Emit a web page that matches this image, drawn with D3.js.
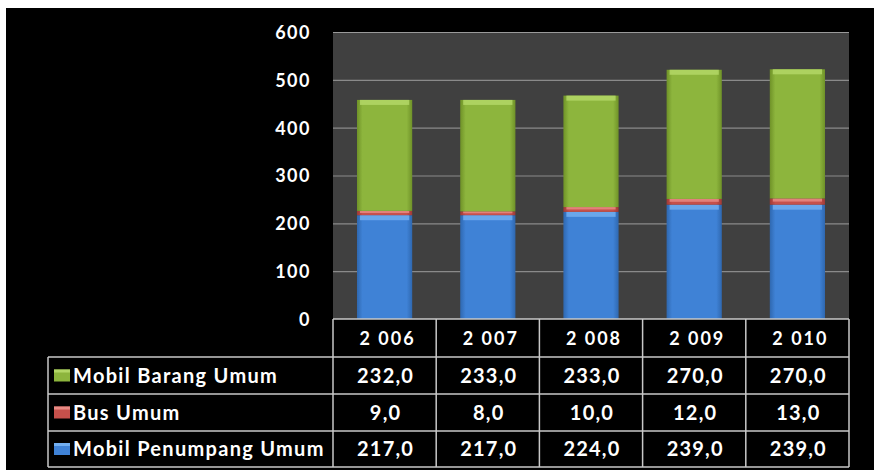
<!DOCTYPE html>
<html><head><meta charset="utf-8">
<script src="https://cdn.jsdelivr.net/npm/d3@7"></script>
<style>
html,body{margin:0;padding:0;background:#fff;}
svg{display:block;}
text{font-family:Lato,"Open Sans",sans-serif;font-weight:bold;fill:#fff;}
</style></head><body>
<svg id="c" width="874" height="470"></svg>
<script>
const years = ["2 006","2 007","2 008","2 009","2 010"];
const seriesNames = ["Mobil Barang Umum","Bus Umum","Mobil Penumpang Umum"];
const barang = [232,233,233,270,270];
const bus = [9,8,10,12,13];
const penumpang = [217,217,224,239,239];
const yTicks = [0,100,200,300,400,500,600];
const colors = {"Mobil Penumpang Umum":"#3f82d6","Bus Umum":"#c6504b","Mobil Barang Umum":"#8db53d"};
const lights = {"Mobil Penumpang Umum":"#72aef0","Bus Umum":"#e88a84","Mobil Barang Umum":"#b3d766"};
const darks = {"Mobil Penumpang Umum":"#2f68b0","Bus Umum":"#9e3a36","Mobil Barang Umum":"#6f9228"};

const svg = d3.select("#c");
svg.append("rect").attr("x",6).attr("y",8).attr("width",868).attr("height",462).attr("fill","#000");

const plotL=333, plotR=849, plotT=32, plotB=319;
const x = d3.scaleBand().domain(years).range([plotL,plotR]);
const y = d3.scaleLinear().domain([0,600]).range([plotB,plotT]);

// plot area
svg.append("rect").attr("x",plotL).attr("y",plotT).attr("width",plotR-plotL).attr("height",plotB-plotT).attr("fill","#404040");
svg.append("g").selectAll("line").data(yTicks.filter(d=>d>0)).join("line")
  .attr("x1",plotL).attr("x2",plotR).attr("y1",d=>y(d)+0.5).attr("y2",d=>y(d)+0.5)
  .attr("stroke",d=>d===600?"#9a9a9a":"#8a8a8a").attr("stroke-width",1.2);

// y axis labels
const yAxis = d3.axisLeft(y).tickValues(yTicks).tickSize(0).tickPadding(0);
const ga = svg.append("g").attr("transform",`translate(311,0)`).call(yAxis);
ga.select(".domain").remove();
ga.selectAll("text").attr("font-size","18px").attr("font-family","Lato").attr("font-weight","bold")
  .attr("letter-spacing","1.5px").attr("fill","#fff").attr("dy","0.36em");

// gradients
const defs = svg.append("defs");
seriesNames.forEach((s,i)=>{
  const g = defs.append("linearGradient").attr("id","g"+i).attr("x1","0").attr("x2","1").attr("y1","0").attr("y2","0");
  g.append("stop").attr("offset","0").attr("stop-color",darks[s]);
  g.append("stop").attr("offset","0.1").attr("stop-color",colors[s]);
  g.append("stop").attr("offset","0.9").attr("stop-color",colors[s]);
  g.append("stop").attr("offset","1").attr("stop-color",darks[s]);
});

const stackData = years.map((yr,i)=>({year:yr,"Mobil Penumpang Umum":penumpang[i],"Bus Umum":bus[i],"Mobil Barang Umum":barang[i]}));
const stack = d3.stack().keys(["Mobil Penumpang Umum","Bus Umum","Mobil Barang Umum"])(stackData);
const bw = x.bandwidth()*0.535;
const off = (x.bandwidth()-bw)/2;
stack.forEach(layer=>{
  const s = layer.key, gi = seriesNames.indexOf(s);
  const g = svg.append("g");
  g.selectAll("rect.b").data(layer).join("rect").attr("class","b")
    .attr("x",d=>x(d.data.year)+off).attr("width",bw)
    .attr("y",d=>y(d[1])).attr("height",d=>y(d[0])-y(d[1]))
    .attr("fill",`url(#g${gi})`);
  g.selectAll("rect.h").data(layer).join("rect").attr("class","h")
    .attr("x",d=>x(d.data.year)+off+3).attr("width",bw-6)
    .attr("y",d=>y(d[1])).attr("height",d=>Math.min(5,(y(d[0])-y(d[1]))/2))
    .attr("fill",lights[s]).attr("opacity",0.85);
});

// table
const rowY = [319,357,394,431,467];
const tableL = 48;
const lineC = "#c8c8c8";
const tg = svg.append("g");
tg.append("line").attr("x1",plotL).attr("x2",plotR).attr("y1",rowY[0]).attr("y2",rowY[0]).attr("stroke",lineC).attr("stroke-width",1.5);
rowY.slice(1).forEach(v=>{
  tg.append("line").attr("x1",tableL).attr("x2",plotR).attr("y1",v).attr("y2",v).attr("stroke",lineC).attr("stroke-width",1.5);
});
tg.append("line").attr("x1",tableL).attr("x2",tableL).attr("y1",rowY[1]).attr("y2",rowY[4]).attr("stroke",lineC).attr("stroke-width",1.5);
years.concat(["end"]).forEach(yr=>{
  const xv = yr==="end"? plotR : x(yr);
  tg.append("line").attr("x1",xv).attr("x2",xv).attr("y1",rowY[0]).attr("y2",rowY[4]).attr("stroke",lineC).attr("stroke-width",1.5);
});
tg.selectAll("text.hd").data(years).join("text").attr("class","hd")
  .attr("x",d=>x(d)+x.bandwidth()/2+3).attr("y",(rowY[0]+rowY[1])/2+1).attr("dy","0.36em")
  .attr("text-anchor","middle").attr("font-size","18px").attr("letter-spacing","2px").text(d=>d);
const fmt = v=>v.toFixed(1).replace(".",",");
const rows = [
  {name:"Mobil Barang Umum",vals:barang},
  {name:"Bus Umum",vals:bus},
  {name:"Mobil Penumpang Umum",vals:penumpang}
];
rows.forEach((r,ri)=>{
  const cy = (rowY[ri+1]+rowY[ri+2])/2;
  tg.append("rect").attr("x",54).attr("y",cy-6).attr("width",16).attr("height",12).attr("fill",colors[r.name]);
  tg.append("rect").attr("x",54).attr("y",cy-6).attr("width",16).attr("height",3).attr("fill",lights[r.name]);
  tg.append("text").attr("x",73).attr("y",cy).attr("dy","0.36em").attr("font-size","20px").attr("letter-spacing","1.3px").text(r.name);
  tg.selectAll("text.v"+ri).data(r.vals).join("text").attr("class","v"+ri)
    .attr("x",(d,i)=>x(years[i])+x.bandwidth()/2+1).attr("y",cy).attr("dy","0.36em")
    .attr("text-anchor","middle").attr("font-size","20px").attr("letter-spacing","1.2px").text(d=>fmt(d));
});
</script>
</body></html>
